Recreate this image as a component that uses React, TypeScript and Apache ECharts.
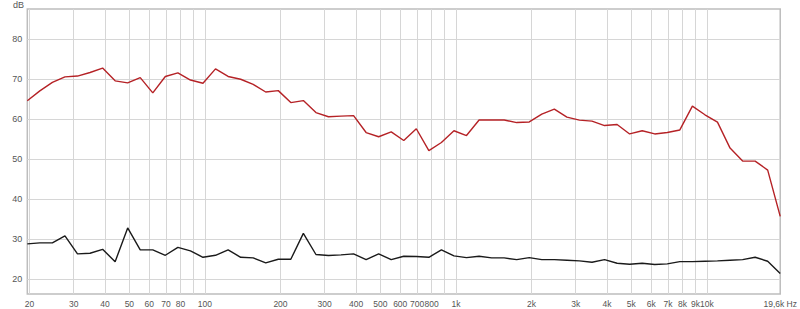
import React, { useEffect, useRef } from "react";
import * as echarts from "echarts";

const freqs = [
  19.6, 21.99, 24.67, 27.69, 31.06, 34.85, 39.11, 43.88, 49.23, 55.24,
  61.98, 69.54, 78.03, 87.55, 98.23, 110.2, 123.7, 138.8, 155.7, 174.7,
  196.0, 219.9, 246.7, 276.9, 310.6, 348.5, 391.1, 438.8, 492.3, 552.4,
  619.8, 695.4, 780.3, 875.5, 982.3, 1102, 1237, 1388, 1557, 1747,
  1960, 2199, 2467, 2769, 3106, 3485, 3911, 4388, 4923, 5524,
  6198, 6954, 7803, 8755, 9823, 11020, 12370, 13880, 15570, 17470,
  19600,
];

const redValues = [
  64.6, 67.1, 69.2, 70.6, 70.8, 71.7, 72.8, 69.6, 69.1, 70.4,
  66.6, 70.7, 71.6, 69.8, 69.0, 72.6, 70.7, 70.0, 68.7, 66.8,
  67.15, 64.15, 64.65, 61.65, 60.6, 60.75, 60.9, 56.65, 55.6, 56.8,
  54.65, 57.6, 52.1, 54.15, 57.1, 55.9, 59.8, 59.8, 59.8, 59.15,
  59.3, 61.25, 62.5, 60.5, 59.75, 59.5, 58.4, 58.65, 56.3, 57.1,
  56.3, 56.65, 57.3, 63.25, 61.1, 59.25, 52.75, 49.5, 49.5, 47.25,
  35.65,
];

const blackValues = [
  28.75, 29.0, 29.0, 30.75, 26.25, 26.4, 27.4, 24.3, 32.75, 27.25,
  27.25, 25.9, 27.9, 27.0, 25.4, 25.9, 27.25, 25.4, 25.25, 24.0,
  24.9, 24.9, 31.4, 26.1, 25.85, 26.0, 26.25, 24.8, 26.25, 24.8,
  25.65, 25.6, 25.4, 27.25, 25.75, 25.3, 25.65, 25.25, 25.25, 24.8,
  25.3, 24.8, 24.8, 24.65, 24.5, 24.15, 24.8, 23.9, 23.65, 23.9,
  23.6, 23.75, 24.3, 24.3, 24.4, 24.5, 24.65, 24.8, 25.4, 24.4,
  21.35,
];

// Vertical grid lines (Hz)
const gridFreqs = [
  20, 30, 40, 50, 60, 70, 80, 90, 100, 200, 300, 400, 500, 600, 700, 800, 900,
  1000, 2000, 3000, 4000, 5000, 6000, 7000, 8000, 9000, 10000,
];

// X tick labels
const xLabelFreqs = [
  20, 30, 40, 50, 60, 70, 80, 100, 200, 300, 400, 500, 600, 700, 800,
  1000, 2000, 3000, 4000, 5000, 6000, 7000, 8000, 9000, 10000, 19600,
];
const xLabelTexts = [
  "20", "30", "40", "50", "60", "70", "80", "100", "200", "300", "400", "500", "600", "700", "800",
  "1k", "2k", "3k", "4k", "5k", "6k", "7k", "8k", "9k", "10k", "19,6k Hz",
];

// Y ticks (dB)
const yTicks = [20, 30, 40, 50, 60, 70, 80];

const X_MIN = 19.6;
const X_MAX = 19600;
const Y_MIN = 16.2;
const Y_MAX = 87.6;

export default function App() {
  const ref = useRef<HTMLDivElement>(null);

  useEffect(() => {
    if (!ref.current) return;
    const chart = echarts.init(ref.current, undefined, { renderer: "svg" });
    const lg = (f: number) => Math.log10(f);
    const labelFor = (v: number) => {
      let best = 0;
      let bd = Infinity;
      xLabelFreqs.forEach((f, i) => {
        const d = Math.abs(lg(f) - v);
        if (d < bd) {
          bd = d;
          best = i;
        }
      });
      return xLabelTexts[best];
    };
    const font = "'Liberation Sans', Arial, sans-serif";
    chart.setOption({
      animation: false,
      backgroundColor: "#ffffff",
      grid: {
        left: 27.3,
        right: 12.6,
        top: 9,
        bottom: 15,
        show: true,
        borderColor: "#bdbdbd",
        borderWidth: 1.5,
        containLabel: false,
      },
      xAxis: {
        type: "value",
        min: lg(X_MIN),
        max: lg(X_MAX),
        axisLine: { show: false },
        axisTick: { show: false, customValues: gridFreqs.map(lg) },
        splitLine: { show: true, lineStyle: { color: "#d6d6d6", width: 1 } },
        axisLabel: {
          customValues: xLabelFreqs.map(lg),
          formatter: (v: number) => labelFor(v),
          color: "#555555",
          fontSize: 8.5,
          fontFamily: font,
          margin: 5,
          hideOverlap: false,
        },
      },
      yAxis: {
        type: "value",
        min: Y_MIN,
        max: Y_MAX,
        axisLine: { show: false },
        axisTick: { show: false, customValues: yTicks },
        splitLine: { show: true, lineStyle: { color: "#d6d6d6", width: 1 } },
        axisLabel: {
          customValues: yTicks,
          color: "#555555",
          fontSize: 9,
          fontFamily: font,
          margin: 5,
        },
      },
      graphic: [
        {
          type: "text",
          left: 13,
          top: 0,
          style: { text: "dB", fill: "#555555", fontSize: 9, fontFamily: font },
        },
      ],
      series: [
        {
          type: "line",
          data: freqs.map((f, i) => [lg(f), redValues[i]]),
          showSymbol: false,
          lineStyle: { color: "#b52226", width: 1.4 },
          itemStyle: { color: "#b52226" },
          z: 3,
        },
        {
          type: "line",
          data: freqs.map((f, i) => [lg(f), blackValues[i]]),
          showSymbol: false,
          lineStyle: { color: "#1a1a1a", width: 1.4 },
          itemStyle: { color: "#1a1a1a" },
          z: 2,
        },
      ],
    });
    return () => chart.dispose();
  }, []);

  return (
    <div
      ref={ref}
      style={{ position: "fixed", left: 0, top: 0, width: 800, height: 309, background: "#fff" }}
    />
  );
}
